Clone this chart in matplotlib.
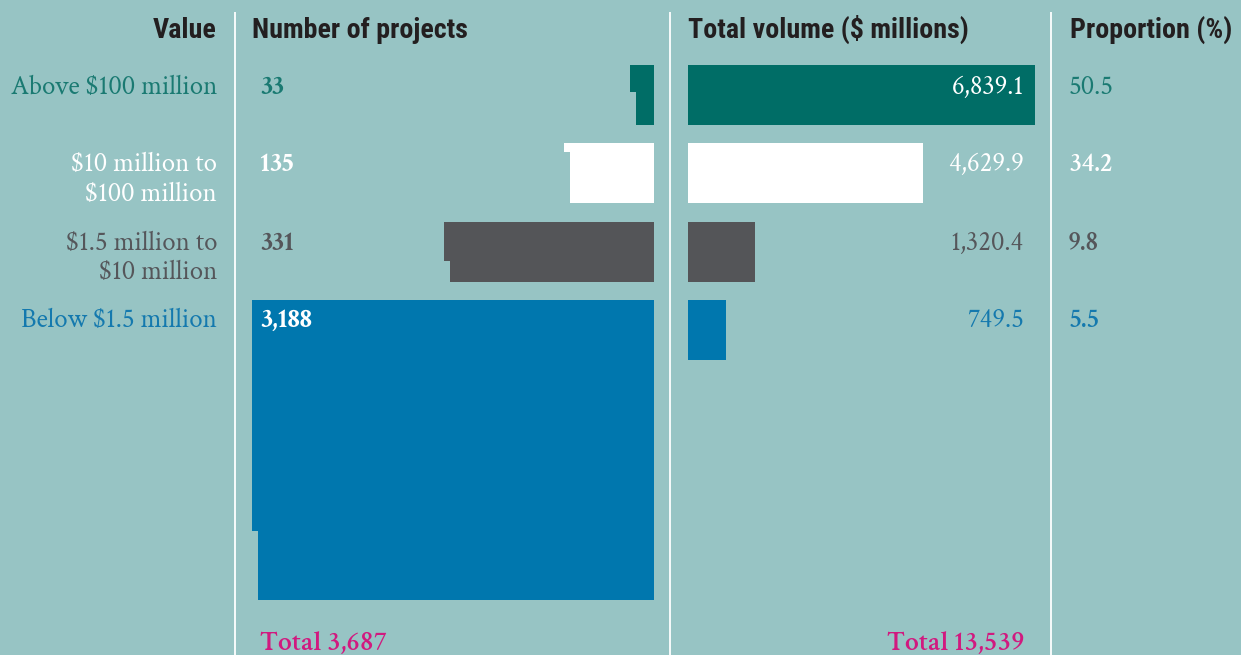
import math
import matplotlib
matplotlib.use("Agg")
import matplotlib.pyplot as plt
from matplotlib.patches import Polygon

# ---------------- data ----------------
categories = ["Above $100 million", "$10 million to\n$100 million",
              "$1.5 million to\n$10 million", "Below $1.5 million"]
projects = [33, 135, 331, 3188]
volumes = [6839.1, 4629.9, 1320.4, 749.5]
headers = ["Value", "Number of projects", "Total volume ($ millions)", "Proportion (%)"]

# ---------------- style ----------------
W, H = 1241, 655
BG = "#97C4C4"
colors = ["#006D66", "#FFFFFF", "#545558", "#0077AE"]
text_colors = ["#1A7A72", "#FFFFFF", "#55565A", "#1479AE"]
vol_text_colors = ["#FFFFFF", "#FFFFFF", "#55565A", "#1479AE"]
count_colors = ["#1A7A72", "#FFFFFF", "#55565A", "#FFFFFF"]
HEAD = "#231F20"
MAG = "#D1197F"
SERIF = ["Crimson Text", "Liberation Serif", "DejaVu Serif"]
SANS_N = ["Roboto Condensed", "DejaVu Sans"]

fig = plt.figure(figsize=(W / 100, H / 100), dpi=100)
fig.patch.set_facecolor(BG)

# ---- volume bars via a dedicated axes (drawn beneath the text layer) ----
px_per_unit = 347 / 6839.1
vmax = 7000
vol_ax = fig.add_axes([688 / W, 0, vmax * px_per_unit / W, 1])
vol_ax.set_xlim(0, vmax)
vol_ax.set_ylim(H, 0)
vol_ax.axis("off")

ax = fig.add_axes([0, 0, 1, 1])
ax.set_xlim(0, W)
ax.set_ylim(H, 0)
ax.axis("off")
ax.patch.set_alpha(0)

row_top = [65, 143.3, 221.7, 300]
row_h = [60, 60, 60, 300]
centers = [t + 30 for t in row_top]
vol_ax.barh(centers, volumes, height=60, left=0, color=colors, edgecolor="none")

# dividers
for x in [234.5, 669.5, 1051]:
    ax.plot([x, x], [12, H], color="white", lw=1.3, solid_capstyle="butt")

# headers
hkw = dict(va="baseline", fontsize=20.2, fontweight="bold", family=SANS_N,
           fontstretch="condensed", color=HEAD)
ax.text(216, 38, headers[0], ha="right", **hkw)
ax.text(252, 38, headers[1], ha="left", **hkw)
ax.text(688, 38, headers[2], ha="left", **hkw)
ax.text(1070, 38, headers[3], ha="left", **hkw)

# ---- number of projects: unit-area blocks filled column by column from right ----
right_edge = 654
col_w = 6.0
unit_area = 37.7  # px^2 per project
for i, n in enumerate(projects):
    top = row_top[i]
    h = row_h[i]
    upc = h * col_w / unit_area
    cols = n / upc
    full = int(math.floor(cols))
    frac = cols - full
    xl_full = right_edge - full * col_w
    bottom = top + h
    if frac > 1e-6:
        xl = xl_full - col_w
        ph = frac * h
        pts = [(right_edge, top), (xl, top), (xl, top + ph), (xl_full, top + ph),
               (xl_full, bottom), (right_edge, bottom)]
    else:
        pts = [(right_edge, top), (xl_full, top), (xl_full, bottom), (right_edge, bottom)]
    ax.add_patch(Polygon(pts, closed=True, facecolor=colors[i], edgecolor="none"))

# ---- text ----
baselines = [94, 171, 250, 327]
total_vol = sum(volumes)
FS = 19.4
for i, cat in enumerate(categories):
    lines = cat.split("\n")
    for k, line in enumerate(lines):
        ax.text(217, baselines[i] + 29.5 * k, line, ha="right", va="baseline",
                fontsize=FS, family=SERIF, color=text_colors[i])
    ax.text(260, baselines[i], f"{projects[i]:,}", ha="left", va="baseline",
            fontsize=FS, fontweight="bold", family=SERIF, color=count_colors[i])
    ax.text(1024, baselines[i], f"{volumes[i]:,.1f}", ha="right", va="baseline",
            fontsize=FS, family=SERIF, color=vol_text_colors[i])
    prop = volumes[i] / total_vol * 100
    ax.text(1068, baselines[i], f"{prop:.1f}", ha="left", va="baseline",
            fontsize=FS, fontweight="semibold" if i else "normal", family=SERIF,
            color=text_colors[i])

ax.text(260, 650, f"Total {sum(projects):,}", ha="left", va="baseline",
        fontsize=20, fontweight="semibold", family=SERIF, color=MAG)
ax.text(1025, 650, f"Total {round(total_vol):,}", ha="right", va="baseline",
        fontsize=20, fontweight="semibold", family=SERIF, color=MAG)

fig.savefig("out.png", dpi=100, facecolor=BG)
